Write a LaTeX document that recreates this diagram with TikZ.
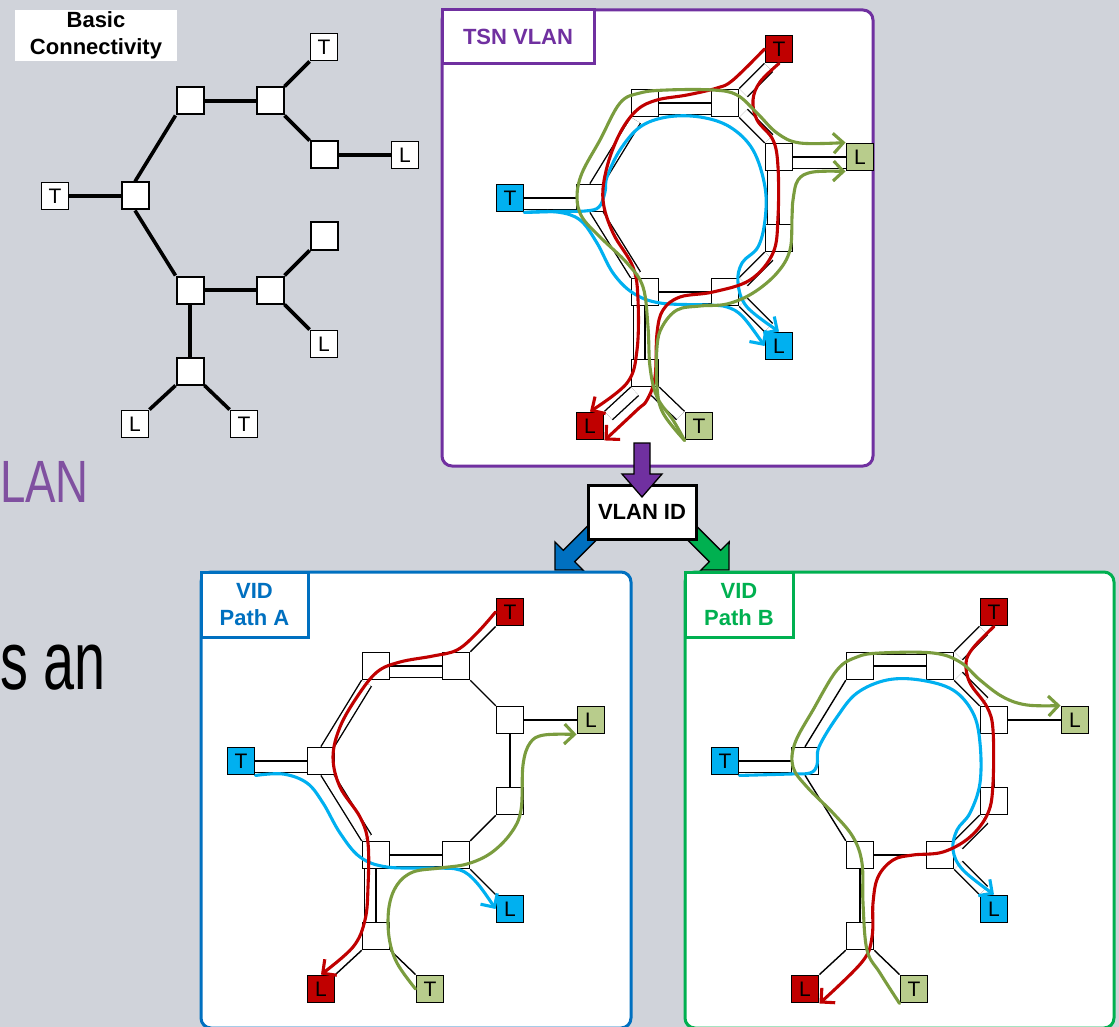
\documentclass[tikz,border=0pt]{standalone}
\usepackage{fontspec}
\setmainfont{Liberation Sans}
\usetikzlibrary{arrows.meta}

\definecolor{slide}{RGB}{208,211,218}
\definecolor{tsnpurple}{RGB}{112,48,160}
\definecolor{pathblue}{RGB}{0,112,192}
\definecolor{pathgreen}{RGB}{0,176,80}
\definecolor{lanpurple}{RGB}{128,80,160}
\definecolor{flowred}{RGB}{192,0,0}
\definecolor{flowcyan}{RGB}{0,176,240}
\definecolor{flowgreen}{RGB}{122,156,62}
\definecolor{stgreen}{RGB}{184,204,140}

\pgfdeclarelayer{panels}
\pgfdeclarelayer{links}
\pgfsetlayers{panels,links,main}

\tikzstyle{sw} = [draw, fill=white, rectangle, minimum size=27pt, inner sep=0pt, line width=1.5pt]
\tikzstyle{es} = [sw, line width=1.9pt, font=\fontsize{21}{21}\selectfont]
\tikzstyle{link} = [draw, line width=1.4pt]
\tikzstyle{panel} = [line width=3pt, fill=white, rounded corners=10pt]
\tikzstyle{tag} = [draw, line width=3pt, fill=white, align=center, inner sep=0pt, font=\bfseries\fontsize{22}{26.5}\selectfont]
\tikzstyle{blockarrow} = [draw=black, line width=1.3pt, line join=miter]
\tikzset{
  flow/.style={line width=3.1pt, line cap=round, line join=round, -{Straight Barb[length=10pt,width=20pt]}},
  redflow/.style={flow, draw=flowred},
  cyanflow/.style={flow, draw=flowcyan},
  greenflow/.style={flow, draw=flowgreen},
  pipe/.style={double=white, double distance=10pt, transform canvas={shift={#1}}}
}

% switches and end stations of one network, args: red, blue, green fill
\newcommand\ringnodes[3]{%
  \node[sw] (s1) at (190,101) {};
  \node[sw] (s2) at (270,101) {};
  \node[sw] (s3) at (324,155) {};
  \node[sw] (s4) at (324,236) {};
  \node[sw] (s5) at (270,290) {};
  \node[sw] (s6) at (190,290) {};
  \node[sw] (s7) at (135,196) {};
  \node[sw] (s8) at (190,371) {};
  \node[es, fill=#1] (tt) at (324,47) {T};
  \node[es, fill=#3] (lr) at (405,155) {L};
  \node[es, fill=#2] (tl) at (55,196) {T};
  \node[es, fill=#2] (lb) at (324,344) {L};
  \node[es, fill=#1] (ll) at (135,424) {L};
  \node[es, fill=#3] (tb) at (244,424) {T};
}

% links between them, each one can be restyled per scope
\newcommand\ringlinks{%
  \draw[link, tl-s7/.try] (tl.east) -- (s7.west);
  \draw[link, s7-s1/.try] (s7.north) -- (s1.south west);
  \draw[link, s1-s2/.try] (s1.east) -- (s2.west);
  \draw[link, s2-tt/.try] (s2.north east) -- (tt.south west);
  \draw[link, s2-s3/.try] (s2.south east) -- (s3.north west);
  \draw[link, s3-lr/.try] (s3.east) -- (lr.west);
  \draw[link, s3-s4/.try] (s3.south) -- (s4.north);
  \draw[link, s4-s5/.try] (s4.south west) -- (s5.north east);
  \draw[link, s5-lb/.try] (s5.south east) -- (lb.north west);
  \draw[link, s5-s6/.try] (s5.west) -- (s6.east);
  \draw[link, s6-s7/.try] (s6.north west) -- (s7.south);
  \draw[link, s6-s8/.try] (s6.south) -- (s8.north);
  \draw[link, s8-ll/.try] (s8.south west) -- (ll.north east);
  \draw[link, s8-tb/.try] (s8.south east) -- (tb.north west);
}

\begin{document}
\begin{tikzpicture}[x=1pt, y=-1pt]
\useasboundingbox (0,0) rectangle (1119,1027);

\begin{pgfonlayer}{panels}
  \fill[slide] (0,0) rectangle (1119,1027);
  \node[anchor=base west, inner sep=0pt, text=lanpurple, font=\fontsize{47}{47}\selectfont, xscale=0.97, yscale=1.27] (heading) at (0,502) {LAN};
  \node[anchor=base west, inner sep=0pt, font=\fontsize{60}{60}\selectfont, xscale=0.93, yscale=1.38] (body) at (0,689) {s an};
  \node[fill=white, minimum width=162pt, minimum height=51pt, inner sep=0pt, align=center, font=\bfseries\fontsize{22}{26.5}\selectfont] (basic) at (96,35.5) {Basic\\Connectivity};
  %
  % arrows down to the two paths
  \filldraw[blockarrow, fill=pathblue] (594.3,519.3) -- (563.3,550.3) -- (554.9,541.9) -- (555,570) -- (583.1,570.1) -- (574.7,561.7) -- (605.7,530.7) -- cycle;
  \filldraw[blockarrow, fill=pathgreen] (689.7,519.3) -- (720.7,550.3) -- (729.1,541.9) -- (729,570) -- (700.9,570.1) -- (709.3,561.7) -- (678.3,530.7) -- cycle;
  %
  % the three network panels
  \draw[panel, draw=tsnpurple] (442,10) rectangle (873,466);
  \draw[panel, draw=pathblue] (201,572) rectangle (631,1028);
  \draw[panel, draw=pathgreen] (685,572) rectangle (1114,1028);
  \node[tag, draw=tsnpurple, text=tsnpurple, minimum width=152pt, minimum height=54pt] (tsn) at (518,37) {TSN VLAN};
  \node[tag, draw=pathblue, text=pathblue, minimum width=107pt, minimum height=65pt] (vida) at (254.5,604.5) {VID\\Path A};
  \node[tag, draw=pathgreen, text=pathgreen, minimum width=108pt, minimum height=65pt] (vidb) at (739,604.5) {VID\\Path B};
  %
  \node[tag, draw=black, minimum width=108pt, minimum height=54pt] (vid) at (642,512) {VLAN ID};
  \filldraw[blockarrow, fill=tsnpurple] (634,443) -- (650,443) -- (650,474) -- (662,474) -- (642,497) -- (622,474) -- (634,474) -- cycle;
\end{pgfonlayer}

% basic connectivity
\begin{scope}[name prefix=c-, sw/.append style={line width=2pt}, link/.append style={line width=3.6pt}, s3-s4/.style={draw=none}]
  \ringnodes{white}{white}{white}
  \begin{pgfonlayer}{links}
    \ringlinks
  \end{pgfonlayer}
\end{scope}

% TSN VLAN
\begin{scope}[shift={(455,2)}, name prefix=v-,
    tl-s7/.style={pipe={(0,5.65)}}, s7-s1/.style={pipe={(4.8,2.9)}},
    s1-s2/.style={pipe={(0,5.65)}}, s2-tt/.style={pipe={(4,4)}},
    s2-s3/.style={pipe={(4,-4)}}, s3-lr/.style={pipe={(0,5.65)}},
    s3-s4/.style={pipe={(-5.65,0)}}, s4-s5/.style={pipe={(4,4)}},
    s5-lb/.style={pipe={(4,-4)}}, s5-s6/.style={pipe={(0,5.65)}},
    s6-s7/.style={pipe={(4.8,-2.9)}}, s6-s8/.style={pipe={(-5.65,0)}},
    s8-ll/.style={pipe={(4,4)}}, s8-tb/.style={pipe={(-4,4)}}]
  \ringnodes{flowred}{flowcyan}{stgreen}
  \begin{pgfonlayer}{links}
    \ringlinks
  \end{pgfonlayer}
  \draw[cyanflow] plot[smooth, tension=.6] coordinates {(tl.south east) (102,210) (125,218) (142,241) (158,271) (178,291) (205,301) (252,303) (272,305) (288,315) (lb.west)};
  \draw[cyanflow] plot[smooth, tension=.6] coordinates {(tl.south east) (100,209.5) (130,209) (144,205) (150,190) (152,175) (165,148) (185,125) (212,115) (245,115) (275,125) (298,148) (310,185) (310,218) (303,245) (287,261) (283,281) (292,305) (lb.north)};
  \draw[redflow] plot[smooth, tension=.6] coordinates {(tt.west) (278,78) (262,86) (232,93) (202,98) (182,108) (165,131) (152,165) (148,198) (158,231) (178,265) (183,298) (182,348) (172,381) (ll.north)};
  \draw[redflow] plot[smooth, tension=.6] coordinates {(tt.south) (305,80) (298,98) (302,118) (318,138) (323,165) (323,215) (318,251) (295,278) (258,290) (225,295) (208,308) (202,331) (200,375) (192,398) (182,408) (ll.south east)};
  \draw[greenflow] plot[smooth, tension=.6] coordinates {(tb.south west) (218,418) (202,395) (195,365) (193,325) (188,285) (172,261) (145,235) (127,215) (122,195) (127,171) (145,138) (165,101) (185,91) (212,88) (258,88) (282,93) (302,111) (322,131) (345,141) (lr.north west)};
  \draw[greenflow] plot[smooth, tension=.6] coordinates {(tb.south west) (208,411) (202,385) (202,345) (207,325) (222,308) (245,304) (272,302) (298,291) (322,271) (335,248) (337,215) (338,198) (343,178) (358,170) (lr.south west)};
\end{scope}

% VID path A
\begin{scope}[shift={(186,565)}, name prefix=a-,
    tl-s7/.style={pipe={(0,5.65)}}, s7-s1/.style={pipe={(4.8,2.9)}},
    s1-s2/.style={pipe={(0,5.65)}}, s6-s7/.style={pipe={(4.8,-2.9)}},
    s5-s6/.style={pipe={(0,5.65)}}, s6-s8/.style={pipe={(-5.65,0)}}]
  \ringnodes{flowred}{flowcyan}{stgreen}
  \begin{pgfonlayer}{links}
    \ringlinks
  \end{pgfonlayer}
  \draw[cyanflow] plot[smooth, tension=.6] coordinates {(tl.south east) (97,209) (121,218) (137,238) (154,268) (174,292) (201,302) (247,303) (274,305) (291,318) (lb.west)};
  \draw[redflow] plot[smooth, tension=.6] coordinates {(tt.west) (291,68) (271,85) (247,91) (214,97) (191,107) (171,132) (154,162) (147,192) (154,222) (174,252) (182,278) (182,322) (179,355) (167,382) (ll.north)};
  \draw[greenflow] plot[smooth, tension=.6] coordinates {(tb.west) (211,398) (203,372) (203,342) (211,320) (227,307) (254,303) (281,299) (305,288) (325,268) (335,245) (337,200) (344,178) (358,170) (lr.south west)};
\end{scope}

% VID path B
\begin{scope}[shift={(670,565)}, name prefix=b-,
    tl-s7/.style={pipe={(0,5.65)}}, s1-s2/.style={pipe={(0,-5.65)}},
    s2-tt/.style={pipe={(4,4)}}, s2-s3/.style={pipe={(4,-4)}},
    s4-s5/.style={pipe={(4,4)}}, s5-lb/.style={pipe={(4,-4)}}]
  \ringnodes{flowred}{flowcyan}{stgreen}
  \begin{pgfonlayer}{links}
    \ringlinks
  \end{pgfonlayer}
  \draw[cyanflow] plot[smooth, tension=.6] coordinates {(tl.south east) (120,209) (140,208) (147,200) (149,182) (167,152) (187,128) (217,115) (250,115) (283,125) (303,148) (310,178) (310,218) (300,248) (287,265) (283,285) (293,305) (lb.north)};
  \draw[redflow] plot[smooth, tension=.6] coordinates {(tt.south) (303,83) (296,98) (300,118) (317,142) (323,165) (323,218) (318,248) (300,272) (273,287) (243,290) (223,295) (208,312) (203,338) (202,372) (192,397) (ll.south east)};
  \draw[greenflow] plot[smooth, tension=.6] coordinates {(tb.south west) (210,408) (197,385) (193,338) (192,298) (183,272) (163,248) (137,222) (123,202) (125,178) (143,145) (167,105) (187,92) (210,88) (263,88) (290,97) (310,115) (333,132) (357,140) (lr.north west)};
\end{scope}
\end{tikzpicture}
\end{document}
